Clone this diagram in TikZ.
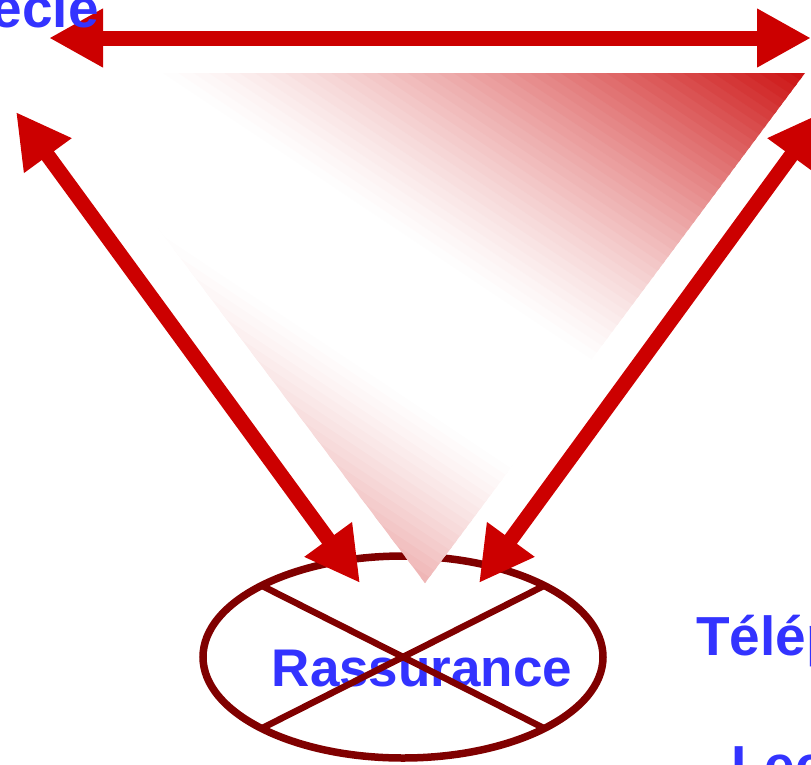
\documentclass[tikz,border=0pt]{standalone}
\usepackage{fontspec}
\setmainfont{Liberation Sans}
\usetikzlibrary{arrows.meta}
\definecolor{arrowred}{HTML}{CC0000}
\definecolor{ellred}{HTML}{800000}
\definecolor{txtblue}{HTML}{3333FF}
\definecolor{trired}{HTML}{CC1010}
\begin{document}
\begin{tikzpicture}[x=1pt,y=-1pt,
  bigarrow/.style={draw=arrowred, line width=15pt,
    {Triangle[length=54pt,width=55pt]}-{Triangle[length=54pt,width=55pt]}},
  lbl/.style={text=txtblue, font=\fontsize{55pt}{60pt}\selectfont\bfseries, inner sep=0pt},
  ringline/.style={draw=ellred, line width=7.5pt}]
\useasboundingbox (0,0) rectangle (811,764);
\clip (0,0) rectangle (811,764);

% ellipse with cross
\coordinate (ringC) at (403,657);
\coordinate (xa) at (261.6,585.6);
\coordinate (xb) at (544.4,728.4);
\coordinate (xc) at (544.4,585.6);
\coordinate (xd) at (261.6,728.4);
\draw[ringline] (ringC) ellipse [x radius=200pt, y radius=101pt];
\node[lbl, font=\fontsize{53pt}{58pt}\selectfont\bfseries, anchor=base] (rass) at (422,686) {Rassurance};
\draw[ringline, line width=6.5pt] (xa) -- (xb);
\draw[ringline, line width=6.5pt] (xc) -- (xd);

% gradient triangle
\begin{scope}
\clip (41,73) -- (805,73) -- (425,583) -- cycle;
\begin{scope}[shift={(41,583)}, x={(764pt,0pt)}, y={(0pt,510pt)}]
\foreach \i in {0,...,99}{
  \pgfmathsetmacro\qa{2*\i/100+1}
  \pgfmathsetmacro\qb{2*(\i+1.4)/100+1}
  \pgfmathsetmacro\tval{max(0.001,(abs(2*(\i+0.5)/100-1)-0.15)/0.85)}
  \pgfmathsetmacro\inten{min(100,100*exp(1.3*ln(\tval)))}
  \fill[trired!\inten!white] (-1,\qa) -- (\qa,-1) -- (\qb,-1) -- (-1,\qb) -- cycle;
}
\end{scope}
\end{scope}

% arrows
\coordinate (topL) at (49,38);
\coordinate (topR) at (811,38);
\coordinate (leftUp) at (16,112);
\coordinate (leftDown) at (360,583);
\coordinate (rightUp) at (823,112);
\coordinate (rightDown) at (479,583);
\draw[bigarrow] (topL) -- (topR);
\draw[bigarrow] (leftUp) -- (leftDown);
\draw[bigarrow] (rightUp) -- (rightDown);

% texts
\node[lbl, anchor=base west] (tel) at (696,655) {Télép};
\node[lbl, anchor=base west] (lec) at (731,784) {Lec};
\node[lbl, anchor=base east] (siecle) at (99,27) {ecle};
\end{tikzpicture}
\end{document}
